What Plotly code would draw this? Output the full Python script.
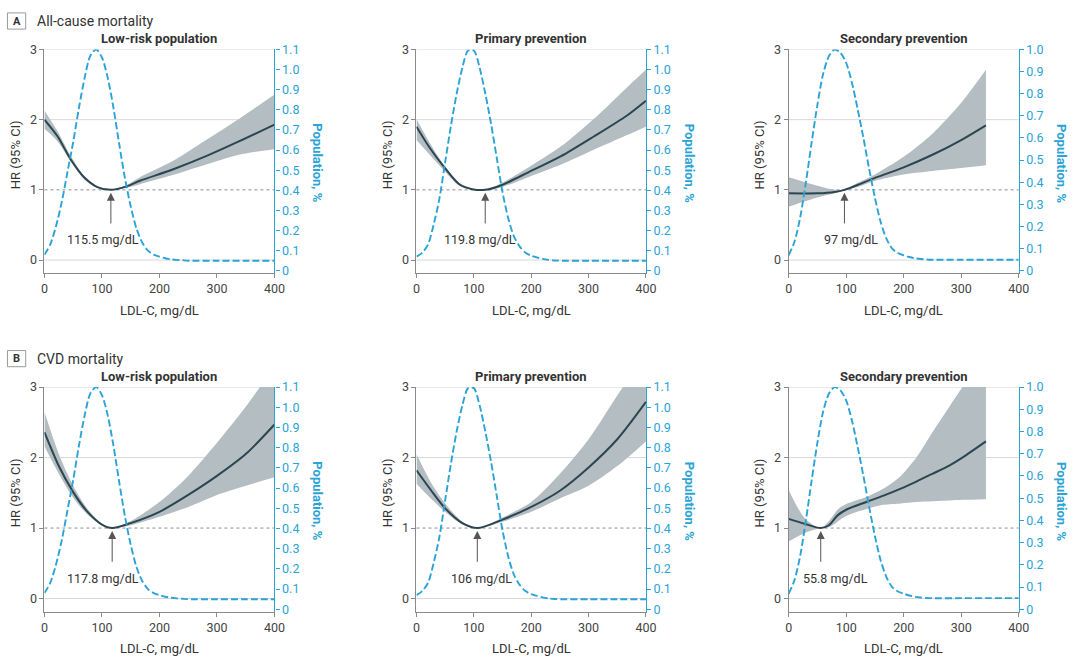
import plotly.graph_objects as go

W, H = 1080, 663

# ---------------- text / ticks ----------------
section_letters = ["A", "B"]
section_titles = ["All-cause mortality", "CVD mortality"]
panel_titles = ["Low-risk population", "Primary prevention", "Secondary prevention"]
x_ticks = [0, 100, 200, 300, 400]
hr_ticks = [0, 1, 2, 3]
pop_ticks_11 = [0, 0.1, 0.2, 0.3, 0.4, 0.5, 0.6, 0.7, 0.8, 0.9, 1.0, 1.1]
pop_labels_11 = ["0", "0.1", "0.2", "0.3", "0.4", "0.5", "0.6", "0.7", "0.8", "0.9", "1.0", "1.1"]
pop_ticks_10 = [0, 0.1, 0.2, 0.3, 0.4, 0.5, 0.6, 0.7, 0.8, 0.9, 1.0]
pop_labels_10 = ["0", "0.1", "0.2", "0.3", "0.4", "0.5", "0.6", "0.7", "0.8", "0.9", "1.0"]

# ---------------- population distributions (%) ----------------
pop_x = [0, 10, 20, 30, 40, 50, 60, 70, 80, 90, 100, 110, 120, 130, 140, 150, 160, 170, 180,
         190, 200, 210, 220, 230, 240, 250, 300, 350, 400]
pop_lowrisk = [0.08, 0.13, 0.22, 0.34, 0.49, 0.64, 0.81, 0.96, 1.07, 1.10, 1.06, 0.96, 0.81, 0.63,
               0.46, 0.32, 0.21, 0.14, 0.10, 0.08, 0.07, 0.062, 0.057, 0.054, 0.052, 0.05, 0.05, 0.05, 0.05]
pop_primary = [0.07, 0.09, 0.13, 0.23, 0.36, 0.54, 0.72, 0.88, 1.01, 1.095, 1.095, 1.01, 0.88, 0.73,
               0.56, 0.39, 0.26, 0.17, 0.12, 0.09, 0.075, 0.066, 0.059, 0.054, 0.051, 0.05, 0.05, 0.05, 0.05]
pop_secondary = [0.07, 0.13, 0.24, 0.40, 0.58, 0.75, 0.89, 0.97, 1.0, 0.985, 0.94, 0.85, 0.73, 0.60,
                 0.46, 0.33, 0.22, 0.145, 0.10, 0.08, 0.07, 0.062, 0.056, 0.053, 0.051, 0.05, 0.05, 0.05, 0.05]

# ---------------- HR curves ----------------
# A: all-cause mortality
a_low_x = [0, 23, 46, 69, 92, 115.5, 143, 166, 223, 281, 338, 400]
a_low_hr = [2.00, 1.76, 1.43, 1.18, 1.04, 1.00, 1.05, 1.13, 1.29, 1.48, 1.69, 1.93]
a_low_lo = [1.87, 1.69, 1.40, 1.15, 1.03, 1.00, 1.03, 1.08, 1.21, 1.36, 1.50, 1.58]
a_low_hi = [2.13, 1.83, 1.48, 1.20, 1.05, 1.00, 1.07, 1.18, 1.41, 1.71, 2.01, 2.36]

a_pri_x = [0, 23, 48.7, 74.5, 97, 119.8, 149, 195, 252, 309, 367, 400]
a_pri_hr = [1.90, 1.60, 1.32, 1.08, 1.01, 1.00, 1.07, 1.25, 1.48, 1.76, 2.06, 2.27]
a_pri_lo = [1.71, 1.50, 1.27, 1.06, 1.01, 1.00, 1.04, 1.18, 1.36, 1.57, 1.78, 1.90]
a_pri_hi = [2.01, 1.67, 1.34, 1.10, 1.02, 1.00, 1.10, 1.32, 1.62, 2.01, 2.46, 2.71]

a_sec_x = [0, 50, 80, 97, 120, 150, 200, 250, 300, 343]
a_sec_hr = [0.95, 0.95, 0.97, 1.00, 1.07, 1.17, 1.32, 1.50, 1.71, 1.92]
a_sec_lo = [0.76, 0.89, 0.95, 1.00, 1.04, 1.13, 1.22, 1.27, 1.31, 1.35]
a_sec_hi = [1.18, 1.06, 1.00, 1.00, 1.10, 1.22, 1.47, 1.80, 2.24, 2.71]

# B: CVD mortality
b_low_x = [0, 25, 50, 75, 100, 117.8, 150, 200, 250, 300, 350, 400]
b_low_hr = [2.36, 1.88, 1.51, 1.23, 1.05, 1.00, 1.07, 1.23, 1.47, 1.74, 2.05, 2.47]
b_low_lo = [2.16, 1.77, 1.43, 1.19, 1.04, 1.00, 1.04, 1.16, 1.30, 1.47, 1.60, 1.72]
b_low_hi = [2.65, 2.05, 1.60, 1.27, 1.06, 1.00, 1.10, 1.37, 1.74, 2.21, 2.72, 3.30]

b_pri_x = [0, 25, 50, 80, 106, 150, 200, 250, 300, 350, 400]
b_pri_hr = [1.82, 1.54, 1.28, 1.07, 1.00, 1.12, 1.30, 1.53, 1.86, 2.26, 2.79]
b_pri_lo = [1.63, 1.42, 1.23, 1.05, 1.00, 1.09, 1.23, 1.42, 1.60, 1.88, 2.23]
b_pri_hi = [2.05, 1.65, 1.35, 1.09, 1.00, 1.15, 1.37, 1.77, 2.26, 2.88, 3.50]

b_sec_x = [0, 28, 55.8, 70, 85, 100, 135, 165, 195, 222, 250, 280, 302, 343]
b_sec_hr = [1.13, 1.06, 1.00, 1.04, 1.18, 1.26, 1.37, 1.46, 1.56, 1.66, 1.77, 1.89, 2.00, 2.23]
b_sec_lo = [0.81, 0.93, 1.00, 1.01, 1.09, 1.17, 1.27, 1.33, 1.35, 1.37, 1.38, 1.39, 1.40, 1.41]
b_sec_hi = [1.54, 1.14, 1.00, 1.10, 1.26, 1.34, 1.44, 1.56, 1.74, 2.00, 2.36, 2.73, 3.00, 3.60]

nadir_values = [115.5, 119.8, 97, 117.8, 106, 55.8]
nadir_labels = ["115.5 mg/dL", "119.8 mg/dL", "97 mg/dL", "117.8 mg/dL", "106 mg/dL", "55.8 mg/dL"]

# ---------------- styling / layout ----------------
FONT = "Roboto, Liberation Sans, Arial, sans-serif"
TEXT = "#333333"
TICK = "#444444"
AXIS = "#8a8a8a"
CYAN = "#2aa3d5"
BAND = "#b3bdc2"
LINE = "#2c4651"

label_x = [102, 111.5, 109, 102, 114, 82]   # centre of nadir label (mg/dL)
col_px = [(41, 274.3), (418.3, 651), (795.7, 1029)]
row_px = [(42.3, 270.7), (386.7, 616)]
HR_RANGE = [-0.19, 3]

panels = [
    (a_low_x, a_low_hr, a_low_lo, a_low_hi, pop_lowrisk, 1.1),
    (a_pri_x, a_pri_hr, a_pri_lo, a_pri_hi, pop_primary, 1.1),
    (a_sec_x, a_sec_hr, a_sec_lo, a_sec_hi, pop_secondary, 1.0),
    (b_low_x, b_low_hr, b_low_lo, b_low_hi, pop_lowrisk, 1.1),
    (b_pri_x, b_pri_hr, b_pri_lo, b_pri_hi, pop_primary, 1.1),
    (b_sec_x, b_sec_hr, b_sec_lo, b_sec_hi, pop_secondary, 1.0),
]


def px_x(p):
    return p / W


def px_y(p):
    return 1 - p / H


fig = go.Figure()
layout = dict(
    width=W, height=H, margin=dict(l=0, r=0, t=0, b=0),
    paper_bgcolor="white", plot_bgcolor="white",
    font=dict(family=FONT, color=TEXT, size=12),
    showlegend=False,
)
shapes = []
annotations = []

for i, (xs, hr, lo, hi, pop, pmax) in enumerate(panels):
    k = i + 1
    r, c = divmod(i, 3)
    xname = "x" if k == 1 else f"x{k}"
    yname = "y" if k == 1 else f"y{k}"
    y2name = f"y{k + 6}"
    xkey = "xaxis" if k == 1 else f"xaxis{k}"
    ykey = "yaxis" if k == 1 else f"yaxis{k}"
    y2key = f"yaxis{k + 6}"

    x0p, x1p = col_px[c]
    y0p, y1p = row_px[r]
    xdom = [px_x(x0p), px_x(x1p)]
    ydom = [px_y(y1p), px_y(y0p)]
    plot_h = y1p - y0p
    pspan = pmax / (plot_h - 2.7) * plot_h
    prange = [pmax - pspan, pmax]

    layout[xkey] = dict(
        domain=xdom, anchor=yname, range=[0, 400], tickvals=x_ticks,
        showline=True, linecolor=AXIS, linewidth=1, ticks="outside", ticklen=4,
        tickcolor=AXIS, showgrid=False, zeroline=False,
        tickfont=dict(size=12.5, color=TICK, family=FONT),
    )
    layout[ykey] = dict(
        domain=ydom, anchor=xname, range=HR_RANGE, tickvals=hr_ticks,
        showline=True, linecolor=AXIS, linewidth=1, ticks="outside", ticklen=4,
        tickcolor=AXIS, showgrid=False, zeroline=False,
        tickfont=dict(size=12.5, color=TICK, family=FONT),
    )
    tv = pop_ticks_11 if pmax > 1.05 else pop_ticks_10
    tt = pop_labels_11 if pmax > 1.05 else pop_labels_10
    layout[y2key] = dict(
        domain=ydom, anchor=xname, overlaying=yname, side="right", range=prange,
        tickvals=tv, ticktext=tt, showline=True, linecolor=CYAN, linewidth=1.2,
        ticks="outside", ticklen=4, tickcolor=CYAN, showgrid=False, zeroline=False,
        tickfont=dict(size=12.5, color=CYAN, family=FONT),
    )

    # CI band, HR curve, population distribution
    fig.add_trace(go.Scatter(x=xs, y=lo, mode="lines", line=dict(width=0, shape="spline", smoothing=0.8),
                             xaxis=xname, yaxis=yname, hoverinfo="skip"))
    fig.add_trace(go.Scatter(x=xs, y=hi, mode="lines", line=dict(width=0, shape="spline", smoothing=0.8),
                             fill="tonexty", fillcolor=BAND, xaxis=xname, yaxis=yname, hoverinfo="skip"))
    fig.add_trace(go.Scatter(x=xs, y=hr, mode="lines", line=dict(width=2, color=LINE, shape="spline", smoothing=0.8),
                             xaxis=xname, yaxis=yname))
    fig.add_trace(go.Scatter(x=pop_x, y=pop, mode="lines",
                             line=dict(width=1.9, color=CYAN, dash="7px,3px", shape="spline", smoothing=0.8),
                             xaxis=xname, yaxis=y2name))

    # gridlines
    xd = f"{xname} domain"
    for v in [0, 2, 3]:
        shapes.append(dict(type="line", xref=xd, yref=yname, x0=0, x1=1, y0=v, y1=v,
                           line=dict(color="#d8d8d8", width=1), layer="below"))
    shapes.append(dict(type="line", xref=xd, yref=yname, x0=0, x1=1, y0=1, y1=1,
                       line=dict(color="#8f8f8f", width=1, dash="dot"), layer="below"))

    # titles
    annotations.append(dict(text=f"<b>{panel_titles[c]}</b>", xref=xd, yref=f"{yname} domain",
                            x=0.5, y=1, yshift=11, xanchor="center", yanchor="middle", showarrow=False,
                            font=dict(size=13, color=TEXT, family=FONT)))
    annotations.append(dict(text="HR (95% CI)", xref=xd, yref=yname, x=0, y=1.5, xshift=-29,
                            xanchor="center", yanchor="middle", textangle=-90, showarrow=False,
                            font=dict(size=13, color=TEXT, family=FONT)))
    annotations.append(dict(text="<b>Population, %</b>", xref=xd, yref=f"{yname} domain", x=1, y=0.49,
                            xshift=43, xanchor="center", yanchor="middle", textangle=90, showarrow=False,
                            font=dict(size=13, color=CYAN, family=FONT)))
    annotations.append(dict(text="LDL-C, mg/dL", xref=xd, yref=f"{yname} domain", x=0.5, y=0, yshift=-37,
                            xanchor="center", yanchor="middle", showarrow=False,
                            font=dict(size=13, color=TEXT, family=FONT)))

    # nadir arrow + label
    nv = nadir_values[i]
    annotations.append(dict(text="", x=nv, y=1, xref=xname, yref=yname, ax=nv, ay=0.5,
                            axref=xname, ayref=yname, showarrow=True, arrowhead=2, arrowsize=1.6,
                            arrowwidth=1, arrowcolor="#555555", standoff=3))
    annotations.append(dict(text=nadir_labels[i], x=label_x[i], y=0.29, xref=xname, yref=yname,
                            xanchor="center", yanchor="middle", showarrow=False,
                            font=dict(size=12.5, color=TEXT, family=FONT)))

# section headers
for j in range(2):
    top = 5 + j * 344.4
    shapes.append(dict(type="rect", xref="paper", yref="paper",
                       x0=px_x(3.5), x1=px_x(22), y0=px_y(top + 16.5), y1=px_y(top),
                       line=dict(color="#9a9a9a", width=1), fillcolor="white"))
    annotations.append(dict(text=f"<b>{section_letters[j]}</b>", xref="paper", yref="paper",
                            x=px_x(12.75), y=px_y(top + 8.5), xanchor="center", yanchor="middle",
                            showarrow=False, font=dict(size=11, color=TEXT, family=FONT)))
    annotations.append(dict(text=section_titles[j], xref="paper", yref="paper",
                            x=px_x(31), y=px_y(top + 8.5), xanchor="left", yanchor="middle",
                            showarrow=False, font=dict(size=14, color=TEXT, family=FONT)))

layout["shapes"] = shapes
layout["annotations"] = annotations
fig.update_layout(**layout)

fig.write_html("out.html", config={"displayModeBar": False},
               post_script="document.body.style.margin='0';document.body.style.overflow='hidden';")
